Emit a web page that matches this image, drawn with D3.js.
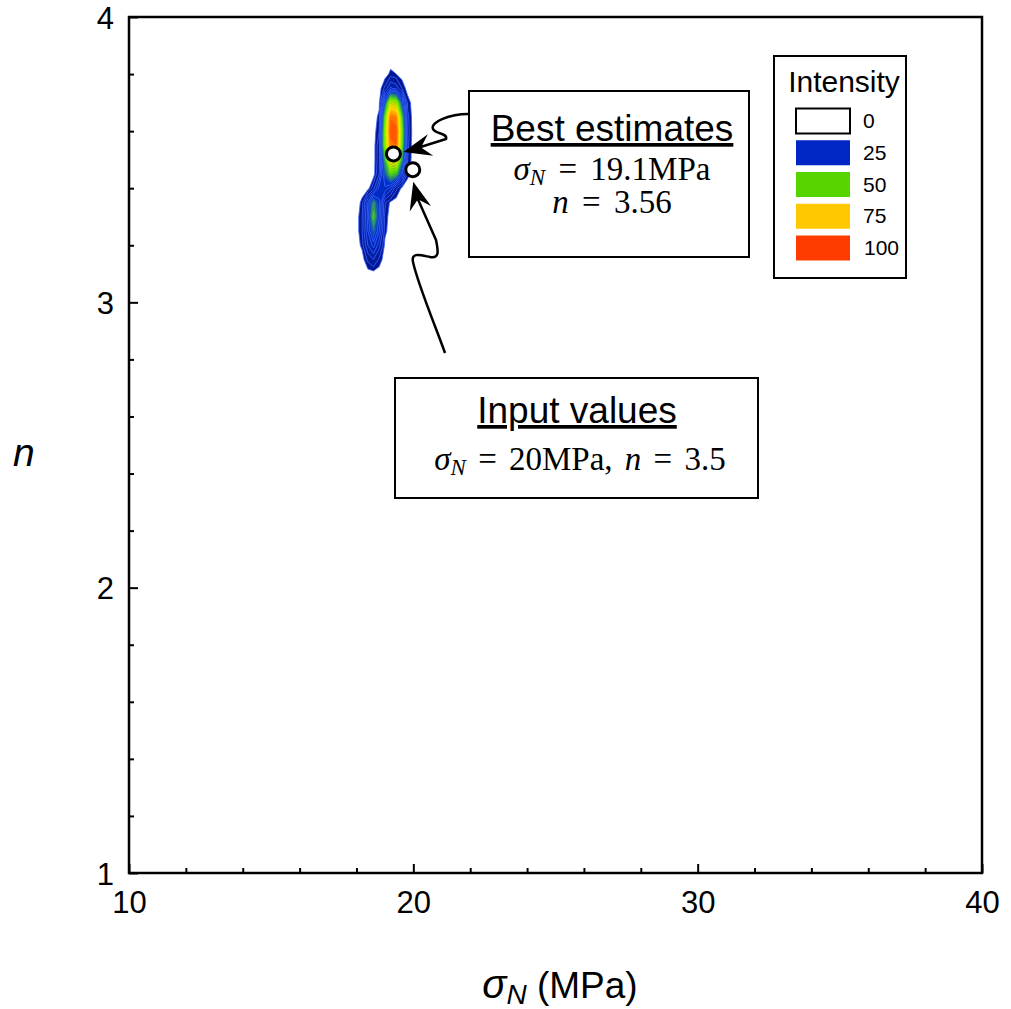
<!DOCTYPE html>
<html>
<head>
<meta charset="utf-8">
<script src="https://cdn.jsdelivr.net/npm/d3@7"></script>
<style>
  html, body { margin: 0; padding: 0; background: #fff; }
  svg { display: block; }
</style>
</head>
<body>
<svg id="chart" width="1011" height="1009"></svg>
<script>
// ---------------- data ----------------
const xTicks = [10, 20, 30, 40];
const yTicks = [1, 2, 3, 4];
const sigmaGrid = [17.8, 18.0, 18.2, 18.4, 18.6, 18.8, 19.0, 19.2, 19.4, 19.6, 19.8, 20.0, 20.2];
const nGrid = [3.00, 3.05, 3.10, 3.15, 3.20, 3.25, 3.30, 3.35, 3.40, 3.45, 3.50, 3.55, 3.60, 3.65, 3.70, 3.75, 3.80, 3.85, 3.90];
// intensity rows (one per nGrid value, bottom to top), columns follow sigmaGrid
const intensity = [
  [0,0,0,0,0,0,0,0,0,0,0,0,0],
  [0,0,0,0,0,0,0,0,0,0,0,0,0],
  [0,0,0,0,0,0,0,0,0,0,0,0,0],
  [0,0,0,6,10,4,0,0,0,0,0,0,0],
  [0,0,3,15,22,12,1,0,0,0,0,0,0],
  [0,0,5,20,35,20,3,0,0,0,0,0,0],
  [0,0,5,22,48,25,4,0,0,0,0,0,0],
  [0,0,3,20,40,26,6,1,0,0,0,0,0],
  [0,0,0,0,8,22,24,18,6,1,0,0,0],
  [0,0,0,0,0,10,32,50,45,22,3,0,0],
  [0,0,0,0,0,8,42,75,75,40,5,0,0],
  [0,0,0,0,0,8,55,92,95,50,6,0,0],
  [0,0,0,0,0,5,55,100,98,52,7,0,0],
  [0,0,0,0,0,3,48,94,90,46,6,0,0],
  [0,0,0,0,0,1,28,66,60,28,4,0,0],
  [0,0,0,0,0,0,6,16,13,5,0,0,0],
  [0,0,0,0,0,0,0,3,2,0,0,0,0],
  [0,0,0,0,0,0,0,0,0,0,0,0,0],
  [0,0,0,0,0,0,0,0,0,0,0,0,0]
];
const legendValues = [0, 25, 50, 75, 100];
const legendColors = ["#ffffff", "#0026c6", "#55d400", "#ffc800", "#ff3c00"];
const bestEstimate = [19.3, 3.52];
const inputValue = [19.98, 3.465];

// ---------------- layout ----------------
const svg = d3.select("#chart");
const L = 129, R = 982, T = 17, B = 873;
const x = d3.scaleLinear().domain([10, 40]).range([L, R]);
const y = d3.scaleLinear().domain([1, 4]).range([B, T]);
const SANS = "'Liberation Sans', Arial, sans-serif";
const SERIF = "'Liberation Serif', 'Times New Roman', serif";

// ---------------- contours ----------------
const nx = sigmaGrid.length, ny = nGrid.length;
const flat = intensity.flat();
const thresholds = [2].concat(d3.range(5, 100, 5));
const colorScale = d3.scaleLinear()
  .domain([0, 25, 50, 75, 100])
  .range(["#00158c", "#0030d0", "#55d400", "#ffc800", "#ff3c00"]);
const dxs = sigmaGrid[1] - sigmaGrid[0];
const dys = nGrid[1] - nGrid[0];
const proj = d3.geoTransform({
  point: function(gx, gy) {
    this.stream.point(x(sigmaGrid[0] + (gx - 0.5) * dxs), y(nGrid[0] + (gy - 0.5) * dys));
  }
});
const path = d3.geoPath(proj);
const contours = d3.contours().size([nx, ny]).thresholds(thresholds)(flat);
svg.append("g").selectAll("path")
  .data(contours)
  .join("path")
  .attr("d", path)
  .attr("fill", d => colorScale(d.value))
  .attr("stroke", d => d.value < 27 ? "#3f63ff" : d3.color(colorScale(d.value)).brighter(0.4))
  .attr("stroke-width", 0.8)
  .attr("stroke-linejoin", "round");

// ---------------- axes ----------------
const xMinor = d3.range(10, 40.01, 2).filter(v => !xTicks.includes(v));
const yMinor = d3.range(1, 4.001, 0.2).map(v => +v.toFixed(1)).filter(v => !yTicks.includes(v));

const gx = svg.append("g").attr("transform", `translate(0,${B})`)
  .call(d3.axisBottom(x).tickValues(xTicks).tickSize(-9).tickPadding(18).tickFormat(d3.format("d")));
const gxm = svg.append("g").attr("transform", `translate(0,${B})`)
  .call(d3.axisBottom(x).tickValues(xMinor).tickSize(-5).tickFormat(""));
const gy = svg.append("g").attr("transform", `translate(${L},0)`)
  .call(d3.axisLeft(y).tickValues(yTicks).tickSize(-9).tickPadding(15).tickFormat(d3.format("d")));
const gym = svg.append("g").attr("transform", `translate(${L},0)`)
  .call(d3.axisLeft(y).tickValues(yMinor).tickSize(-5).tickFormat(""));
[gx, gxm, gy, gym].forEach(g => {
  g.select(".domain").remove();
  g.selectAll(".tick line").attr("stroke", "#000").attr("stroke-width", 2);
  g.selectAll(".tick text").attr("fill", "#000").style("font-family", SANS).style("font-size", "31px");
});
gy.selectAll(".tick text").attr("dy", "0.36em");

svg.append("rect").attr("x", L).attr("y", T).attr("width", R - L).attr("height", B - T)
  .attr("fill", "none").attr("stroke", "#000").attr("stroke-width", 2.5);

// axis titles
const xt = svg.append("text").attr("x", 560).attr("y", 998).attr("text-anchor", "middle")
  .style("font-family", SANS).style("font-size", "37px").attr("fill", "#000");
xt.append("tspan").style("font-style", "italic").style("font-size", "40px").text("σ");
xt.append("tspan").style("font-style", "italic").style("font-size", "28px").attr("dy", 6).text("N");
xt.append("tspan").attr("dy", -6).text(" (MPa)");

svg.append("text").attr("x", 13).attr("y", 466)
  .style("font-family", SANS).style("font-size", "39px").style("font-style", "italic")
  .attr("fill", "#000").text("n");

// ---------------- legend ----------------
const lg = svg.append("g");
lg.append("rect").attr("x", 774).attr("y", 56).attr("width", 132).attr("height", 222)
  .attr("fill", "#fff").attr("stroke", "#000").attr("stroke-width", 2);
lg.append("text").attr("x", 844).attr("y", 92).attr("text-anchor", "middle")
  .style("font-family", SANS).style("font-size", "30px").attr("fill", "#000").text("Intensity");
const rowY = d3.scaleLinear().domain([0, 4]).range([121, 248]);
legendValues.forEach((v, i) => {
  lg.append("rect").attr("x", 796).attr("y", rowY(i) - 12.5).attr("width", 54).attr("height", 25)
    .attr("fill", legendColors[i])
    .attr("stroke", i === 0 ? "#000" : "none").attr("stroke-width", 2);
  lg.append("text").attr("x", i === 4 ? 864 : 863).attr("y", rowY(i) + 7)
    .style("font-family", SANS).style("font-size", "21px").attr("fill", "#000").text(v);
});

// ---------------- annotation boxes ----------------
function box(x0, y0, w, h) {
  svg.append("rect").attr("x", x0).attr("y", y0).attr("width", w).attr("height", h)
    .attr("fill", "#fff").attr("stroke", "#000").attr("stroke-width", 2);
}
// Best estimates
box(469, 91, 280, 166);
svg.append("text").attr("x", 612).attr("y", 141).attr("text-anchor", "middle")
  .style("font-family", SANS).style("font-size", "37px").style("text-decoration", "underline")
  .attr("fill", "#000").text("Best estimates");
const b2 = svg.append("text").attr("x", 612).attr("y", 180).attr("text-anchor", "middle")
  .style("font-family", SERIF).style("font-size", "33px").style("word-spacing", "5px").attr("fill", "#000");
b2.append("tspan").style("font-style", "italic").text("σ");
b2.append("tspan").style("font-style", "italic").style("font-size", "23px").attr("dy", 5).text("N");
b2.append("tspan").attr("dy", -5).text(" = 19.1MPa");
const b3 = svg.append("text").attr("x", 612).attr("y", 213).attr("text-anchor", "middle")
  .style("font-family", SERIF).style("font-size", "33px").style("word-spacing", "5px").attr("fill", "#000");
b3.append("tspan").style("font-style", "italic").text("n");
b3.append("tspan").text(" = 3.56");

// Input values
box(395, 378, 363, 120);
svg.append("text").attr("x", 577).attr("y", 423).attr("text-anchor", "middle")
  .style("font-family", SANS).style("font-size", "37px").style("text-decoration", "underline")
  .attr("fill", "#000").text("Input values");
const i2 = svg.append("text").attr("x", 580).attr("y", 470).attr("text-anchor", "middle")
  .style("font-family", SERIF).style("font-size", "33px").style("word-spacing", "4px").attr("fill", "#000");
i2.append("tspan").style("font-style", "italic").text("σ");
i2.append("tspan").style("font-style", "italic").style("font-size", "23px").attr("dy", 5).text("N");
i2.append("tspan").attr("dy", -5).text(" = 20MPa, ");
i2.append("tspan").style("font-style", "italic").text("n");
i2.append("tspan").text(" = 3.5");

// ---------------- arrows ----------------
function arrowHead(tip, from, len, half) {
  const dx = tip[0] - from[0], dy = tip[1] - from[1];
  const m = Math.hypot(dx, dy), ux = dx / m, uy = dy / m, vx = -uy, vy = ux;
  const p1 = [tip[0] - len * ux + half * vx, tip[1] - len * uy + half * vy];
  const p2 = [tip[0] - 0.65 * len * ux, tip[1] - 0.65 * len * uy];
  const p3 = [tip[0] - len * ux - half * vx, tip[1] - len * uy - half * vy];
  svg.append("path").attr("d", `M${tip}L${p1}L${p2}L${p3}Z`).attr("fill", "#000");
}
const bx = x(bestEstimate[0]), by = y(bestEstimate[1]);
const ix = x(inputValue[0]), iy = y(inputValue[1]);
const tip1 = [bx + 10, by - 2];
const tip2 = [ix + 0.5, iy + 12];
svg.append("path")
  .attr("d", `M468,114 C450,114 430,122 433,129 C435,134 448,133 446,139 L${tip1[0] + 14},${tip1[1] - 4}`)
  .attr("fill", "none").attr("stroke", "#000").attr("stroke-width", 2.5);
arrowHead(tip1, [446, 141], 28, 11);
svg.append("path")
  .attr("d", `M445,353 C437,330 418,285 413,262 C411,252 420,255 430,257 C440,259 438,250 436,240 L${tip2[0] + 4},${tip2[1] + 16}`)
  .attr("fill", "none").attr("stroke", "#000").attr("stroke-width", 2.5);
arrowHead(tip2, [422, 215], 28, 11);

// ---------------- points ----------------
svg.append("g").selectAll("circle")
  .data([bestEstimate, inputValue])
  .join("circle")
  .attr("cx", d => x(d[0])).attr("cy", d => y(d[1])).attr("r", 7)
  .attr("fill", "#fff").attr("stroke", "#000").attr("stroke-width", 3);
</script>
</body>
</html>
